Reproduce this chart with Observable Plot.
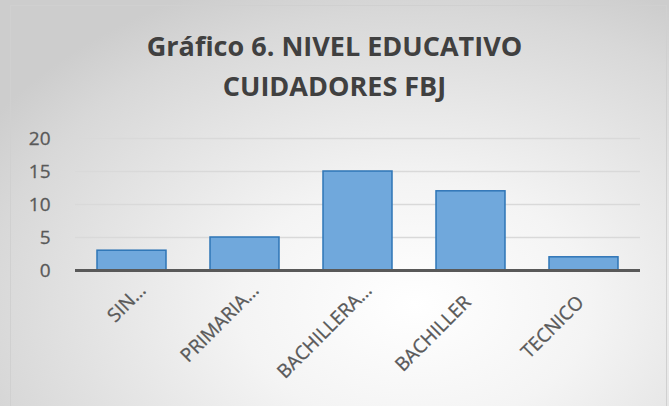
<!DOCTYPE html>
<html><head><meta charset="utf-8">
<script src="https://cdn.jsdelivr.net/npm/d3@7"></script>
<script src="https://cdn.jsdelivr.net/npm/@observablehq/plot@0.6"></script>
<style>
html,body{margin:0;padding:0;background:#fff;}
#wrap{position:relative;width:669px;height:406px;overflow:hidden;
 background:radial-gradient(ellipse 75% 85% at 62% 75%, #ffffff 0%, #f4f4f4 35%, #d8d8d8 85%, #cdcdcd 100%);}
#frame{position:absolute;left:10px;top:5px;right:2px;bottom:-2px;border:1px solid #d0d0d0;pointer-events:none;}
#title{position:absolute;left:0;top:26px;width:669px;text-align:center;font-family:"Open Sans",sans-serif;font-weight:bold;font-size:27px;line-height:40px;color:#404040;}
#chart{position:absolute;left:0;top:0;}
</style></head>
<body>
<div id="wrap"><div id="title">Gráfico 6. NIVEL EDUCATIVO<br>CUIDADORES FBJ</div><div id="chart"></div><div id="frame"></div></div>
<script>
const categories = ["SIN…", "PRIMARIA…", "BACHILLERA…", "BACHILLER", "TECNICO"];
const values = [3, 5, 15, 12, 2];
const yTicks = [0, 5, 10, 15, 20];
const data = categories.map((c, i) => ({cat: c, val: values[i]}));
const truncated = categories.filter(c => c.endsWith("…"));
const full = categories.filter(c => !c.endsWith("…"));

const labelStyle = {frameAnchor: "bottom", rotate: -45, textAnchor: "end", lineAnchor: "bottom", fontSize: 19, fill: "#595959", stroke: "#595959", strokeWidth: 0.3};

const chart = Plot.plot({
  width: 669, height: 406,
  marginTop: 138, marginBottom: 136, marginLeft: 75, marginRight: 29,
  style: {background: "transparent", fontFamily: "Open Sans, sans-serif", color: "#595959"},
  x: {domain: categories, paddingInner: 0.39, paddingOuter: 0.195, axis: null},
  y: {domain: [0, 20], axis: null},
  marks: [
    Plot.gridY(yTicks, {stroke: "#d9d9d9", strokeOpacity: 1, strokeWidth: 1.5}),
    Plot.text(yTicks, {y: d => d, frameAnchor: "left", dx: -25, textAnchor: "end", fontSize: 19, fill: "#595959", stroke: "#595959", strokeWidth: 0.3}),
    Plot.barY(data, {x: "cat", y: "val", fill: "#70a8dc", stroke: "#2e75b6", strokeWidth: 1.5}),
    Plot.ruleY([0], {stroke: "#595959", strokeWidth: 3}),
    Plot.text(full, {x: d => d, ...labelStyle, dx: 1, dy: 33}),
    Plot.text(truncated, {x: d => d, ...labelStyle, dx: 15, dy: 21})
  ]
});
document.getElementById("chart").appendChild(chart);
</script>
</body></html>
